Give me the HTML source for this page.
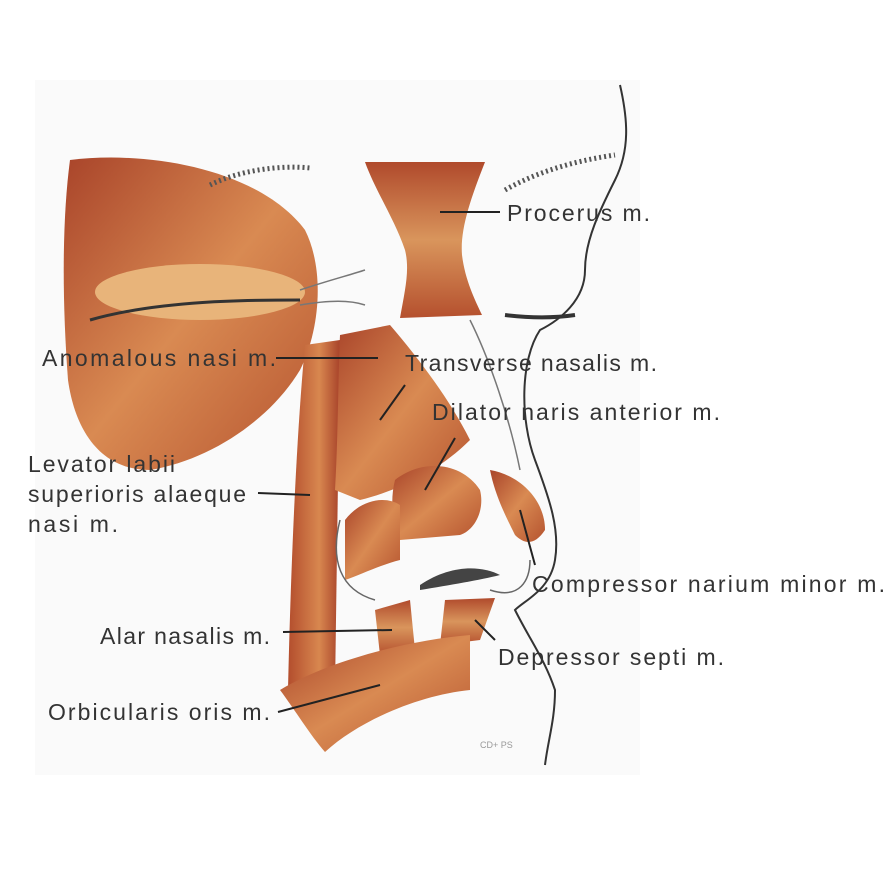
<!DOCTYPE html>
<html><head><meta charset="utf-8"><style>
html,body{margin:0;padding:0;background:#fff;}
svg{display:block}
text{font-family:"Liberation Sans",sans-serif;font-size:23px;fill:#333;}
</style></head><body>
<svg width="894" height="894" viewBox="0 0 894 894">
<defs>
<linearGradient id="m1" x1="0" y1="0" x2="1" y2="1">
<stop offset="0" stop-color="#a9442a"/><stop offset="0.5" stop-color="#d98a52"/><stop offset="1" stop-color="#b5532f"/>
</linearGradient>
<linearGradient id="m2" x1="0" y1="0" x2="0" y2="1">
<stop offset="0" stop-color="#b04a2c"/><stop offset="0.5" stop-color="#d9955c"/><stop offset="1" stop-color="#b5502e"/>
</linearGradient>
<linearGradient id="m3" x1="0" y1="0" x2="1" y2="0">
<stop offset="0" stop-color="#b34d2d"/><stop offset="0.6" stop-color="#d8874f"/><stop offset="1" stop-color="#a8432a"/>
</linearGradient>
</defs>
<rect x="35" y="80" width="605" height="695" fill="#fafafa"/>
<path d="M70,160 C150,150 260,170 305,230 C325,270 320,330 300,370 C270,420 210,460 150,470 C100,470 75,430 68,380 C62,300 62,220 70,160 Z" fill="url(#m1)"/>
<ellipse cx="200" cy="292" rx="105" ry="28" fill="#e8b47a"/>
<path d="M90,320 C160,300 250,300 300,300" stroke="#333" stroke-width="3" fill="none"/>
<path d="M210,185 C240,170 280,165 310,168" stroke="#555" stroke-width="5" fill="none" stroke-dasharray="2 3"/>
<path d="M300,290 C330,280 350,275 365,270 M300,305 C330,300 350,300 365,305" stroke="#777" stroke-width="1.5" fill="none"/>
<path d="M365,162 L485,162 C470,200 460,230 462,255 C465,280 475,300 482,315 L400,318 C405,290 410,270 405,250 C395,220 375,190 365,162 Z" fill="url(#m2)"/>
<path d="M305,345 L340,340 L335,690 L288,690 C290,600 295,450 305,345 Z" fill="url(#m3)"/>
<path d="M340,335 L390,325 C420,360 450,400 470,440 C440,470 400,490 360,500 L335,490 C338,440 338,380 340,335 Z" fill="url(#m1)"/>
<path d="M395,480 C420,460 460,460 480,490 C485,510 475,530 460,535 L400,540 C392,520 390,500 395,480 Z" fill="url(#m1)"/>
<path d="M345,520 C360,500 385,495 400,505 L400,560 C380,565 360,575 345,580 Z" fill="url(#m1)"/>
<path d="M490,470 C520,475 545,500 545,530 C535,545 525,545 515,535 C505,515 495,495 490,470 Z" fill="url(#m1)"/>
<path d="M420,585 C450,565 480,565 500,575 C480,580 450,585 420,590 Z" fill="#444"/>
<path d="M340,520 C330,560 340,590 375,600 M490,590 C520,600 530,580 530,560" stroke="#666" stroke-width="1.5" fill="none"/>
<path d="M375,610 L410,600 L415,650 L380,655 Z" fill="url(#m2)"/>
<path d="M445,600 L495,598 L480,640 L440,645 Z" fill="url(#m2)"/>
<path d="M280,690 C330,660 410,640 470,635 L470,690 C420,695 360,720 325,752 C310,735 295,710 280,690 Z" fill="url(#m1)"/>
<path d="M505,190 C540,170 580,160 615,155" stroke="#555" stroke-width="5" fill="none" stroke-dasharray="2 3"/>
<path d="M505,315 C530,318 555,318 575,315" stroke="#333" stroke-width="4" fill="none"/>
<path d="M620,85 C628,120 630,150 615,180 C600,210 585,240 585,270 C585,300 560,320 540,330 C520,360 520,420 535,460 C550,500 560,530 555,560 C550,590 525,600 515,610 C530,640 545,660 555,690 C555,720 548,740 545,765" stroke="#333" stroke-width="2" fill="none"/>
<path d="M470,320 C490,360 510,420 520,470" stroke="#777" stroke-width="1.5" fill="none"/>
<g stroke="#222" stroke-width="2" fill="none">
<line x1="440" y1="212" x2="500" y2="212"/>
<line x1="276" y1="358" x2="378" y2="358"/>
<line x1="380" y1="420" x2="405" y2="385"/>
<line x1="425" y1="490" x2="455" y2="438"/>
<line x1="258" y1="493" x2="310" y2="495"/>
<line x1="520" y1="510" x2="535" y2="565"/>
<line x1="283" y1="632" x2="392" y2="630"/>
<line x1="475" y1="620" x2="495" y2="640"/>
<line x1="278" y1="712" x2="380" y2="685"/>
</g>
<text x="507" y="221" textLength="143" lengthAdjust="spacing">Procerus m.</text>
<text x="42" y="366" textLength="234" lengthAdjust="spacing">Anomalous nasi m.</text>
<text x="405" y="371" textLength="252" lengthAdjust="spacing">Transverse nasalis m.</text>
<text x="432" y="420" textLength="288" lengthAdjust="spacing">Dilator naris anterior m.</text>
<text x="28" y="472" textLength="147" lengthAdjust="spacing">Levator labii</text>
<text x="28" y="502" textLength="218" lengthAdjust="spacing">superioris alaeque</text>
<text x="28" y="532" textLength="90" lengthAdjust="spacing">nasi m.</text>
<text x="532" y="592" textLength="353" lengthAdjust="spacing">Compressor narium minor m.</text>
<text x="100" y="644" textLength="170" lengthAdjust="spacing">Alar nasalis m.</text>
<text x="498" y="665" textLength="226" lengthAdjust="spacing">Depressor septi m.</text>
<text x="48" y="720" textLength="222" lengthAdjust="spacing">Orbicularis oris m.</text>
<text x="480" y="748" style="font-size:9px;fill:#999">CD+ PS</text>
</svg>
</body></html>
